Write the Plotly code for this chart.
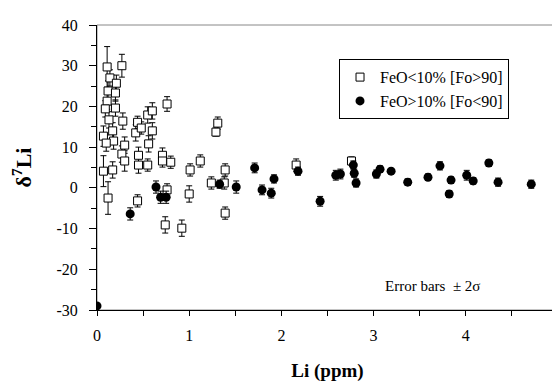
import plotly.graph_objects as go

# FeO<10% [Fo>90] (open squares)
sq_x = [0.11, 0.27, 0.14, 0.21, 0.12, 0.20, 0.11, 0.09, 0.20, 0.13, 0.28, 0.44, 0.55, 0.60, 0.76,
        0.07, 0.17, 0.18, 0.10, 0.30, 0.27, 0.45, 0.42, 0.48, 0.60, 0.56, 0.30, 0.17, 0.07, 0.45,
        0.55, 0.71, 0.71, 0.80, 0.12, 0.44, 0.76, 0.74, 0.92, 1.01, 1.12, 1.00, 1.31, 1.29, 1.24,
        1.39, 1.38, 1.39, 2.16, 2.76]
sq_y = [29.7, 30.0, 27.0, 25.7, 23.8, 23.3, 21.3, 19.4, 19.6, 16.7, 16.4, 16.1, 17.9, 18.9, 20.6,
        12.7, 14.0, 11.5, 11.0, 10.5, 8.3, 8.0, 13.5, 14.7, 14.0, 10.8, 6.6, 4.4, 4.1, 5.6,
        5.6, 8.0, 6.6, 6.3, -2.5, -3.2, -0.5, -9.1, -9.9, 4.4, 6.6, -1.5, 15.9, 13.7, 1.2,
        4.4, 1.2, -6.2, 5.6, 6.6]
sq_err = [5.0, 2.8, 2.0, 2.0, 2.5, 2.0, 2.0, 2.0, 2.0, 2.0, 2.0, 1.5, 2.0, 2.0, 1.8,
          2.5, 2.0, 2.0, 2.0, 2.0, 2.0, 2.0, 2.0, 1.5, 2.0, 2.0, 2.5, 2.0, 3.8, 2.0,
          1.5, 1.8, 1.5, 1.5, 4.0, 1.5, 1.5, 2.0, 2.0, 1.5, 1.5, 2.0, 1.5, 1.0, 1.5,
          1.5, 1.5, 1.5, 1.5, 1.0]

# FeO>10% [Fo<90] (filled circles)
ci_x = [0.00, 0.64, 0.69, 0.75, 0.36, 1.33, 1.51, 1.71, 1.79, 1.89, 1.92, 2.18, 2.42, 2.59, 2.64,
        2.78, 2.79, 2.81, 3.03, 3.07, 3.19, 3.37, 3.59, 3.72, 3.82, 3.84, 4.01, 4.08, 4.25, 4.35, 4.71]
ci_y = [-29.0, 0.2, -2.3, -2.3, -6.4, 0.9, 0.2, 4.9, -0.5, -1.3, 2.2, 4.1, -3.3, 3.1, 3.4,
        5.6, 3.6, 1.2, 3.4, 4.6, 4.1, 1.4, 2.6, 5.4, -1.5, 1.9, 3.1, 1.7, 6.1, 1.4, 0.9]
ci_err = [0.0, 1.5, 1.5, 1.5, 1.5, 1.0, 1.5, 1.2, 1.2, 1.2, 1.0, 1.0, 1.2, 1.2, 1.2,
          1.0, 1.0, 1.0, 1.0, 0.8, 0.5, 0.8, 0.8, 1.0, 0.8, 0.8, 1.2, 0.8, 0.8, 1.0, 1.0]

x_ticks = [0, 1, 2, 3, 4, 5]
x_labels = ["0", "1", "2", "3", "4", "5"]
y_ticks = [-30, -20, -10, 0, 10, 20, 30, 40]
y_labels = ["-30", "-20", "-10", "0", "10", "20", "30", "40"]

FONT = "Liberation Serif"

fig = go.Figure()
fig.add_trace(go.Scatter(
    x=sq_x, y=sq_y, mode="markers", name="FeO<10% [Fo>90]",
    marker=dict(symbol="square", size=8, color="white", line=dict(color="black", width=1)),
    error_y=dict(type="data", array=sq_err, color="black", thickness=1, width=3),
))
fig.add_trace(go.Scatter(
    x=ci_x, y=ci_y, mode="markers", name="FeO>10% [Fo<90]",
    marker=dict(symbol="circle", size=9, color="black", line=dict(color="black", width=0)),
    error_y=dict(type="data", array=ci_err, color="black", thickness=1, width=3),
))

fig.add_shape(type="rect", xref="paper", yref="paper", x0=0, y0=0, x1=1, y1=1,
              line=dict(color="#888888", width=1), layer="below")

fig.add_annotation(x=4.18, y=-24, xref="x", yref="y", text="Error bars  \u00b1 2\u03c3",
                   showarrow=False, xanchor="right", yanchor="middle",
                   font=dict(family=FONT, size=15, color="black"))

fig.update_layout(
    width=560, height=381,
    margin=dict(l=89, r=6, t=17, b=79),
    paper_bgcolor="white", plot_bgcolor="white",
    font=dict(family=FONT, size=15, color="black"),
    showlegend=True,
    legend=dict(x=0.525, y=0.88, xanchor="left", yanchor="top",
                bordercolor="black", borderwidth=1, bgcolor="white",
                font=dict(family=FONT, size=16, color="black"),
                itemwidth=30, tracegroupgap=0),
    xaxis=dict(range=[0, 5], tickvals=x_ticks, ticktext=x_labels, showgrid=False, zeroline=False,
               showline=True, linecolor="black", linewidth=1,
               ticks="outside", ticklen=5, tickcolor="black", ticklabelstandoff=6,
               minor=dict(dtick=0.5, ticks="outside", ticklen=5, tickcolor="black", showgrid=False),
               tickfont=dict(family=FONT, size=16),
               title=dict(text="<b>Li (ppm)</b>", font=dict(family=FONT, size=19), standoff=20)),
    yaxis=dict(range=[-30, 40], tickvals=y_ticks, ticktext=y_labels, showgrid=False, zeroline=False,
               showline=True, linecolor="black", linewidth=1,
               ticks="outside", ticklen=7, tickcolor="black", ticklabelstandoff=8,
               minor=dict(dtick=5, ticks="outside", ticklen=5, tickcolor="black", showgrid=False),
               tickfont=dict(family=FONT, size=16),
               title=dict(text="<b>\u03b4<sup>7</sup>Li</b>", font=dict(family=FONT, size=22), standoff=18)),
)

fig.write_html("out.html")
